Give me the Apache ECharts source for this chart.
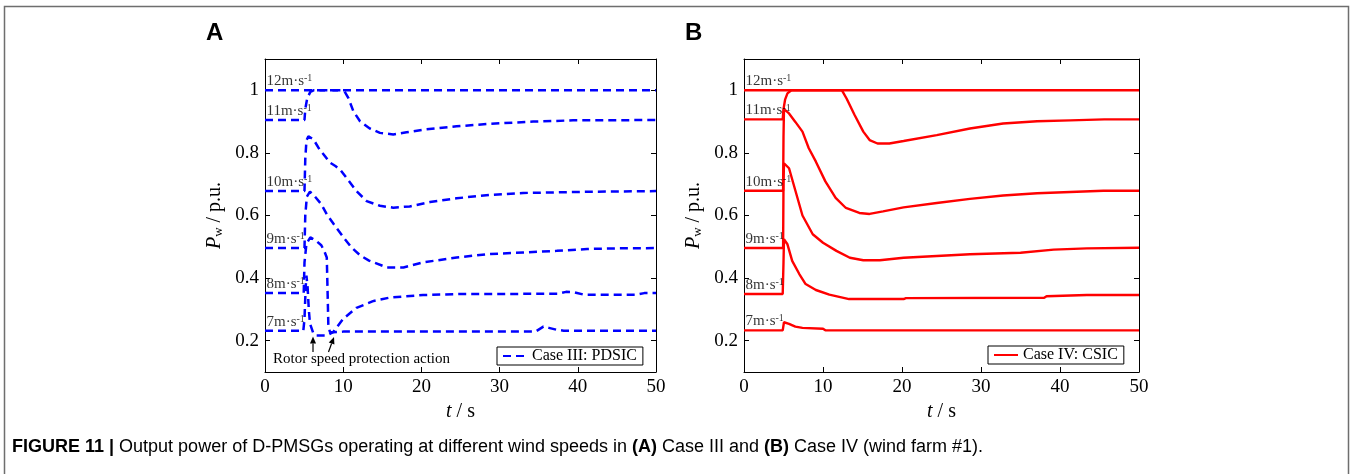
<!DOCTYPE html>
<html><head><meta charset="utf-8">
<script src="https://cdn.jsdelivr.net/npm/echarts@6/dist/echarts.min.js"></script>
<style>html,body{margin:0;padding:0;background:#fff}#c{width:1355px;height:474px}</style>
</head><body><div id="c"></div><script>
// ---------- data ----------
const xTicks = [0, 10, 20, 30, 40, 50];
const yTicks = [0.2, 0.4, 0.6, 0.8, 1];
const speedLabels = ['12m·s', '11m·s', '10m·s', '9m·s', '8m·s', '7m·s'];
const legendIII = 'Case III: PDSIC';
const legendIV = 'Case IV: CSIC';

// Case III: PDSIC  [t (s), Pw (p.u.)]
const caseIII_12 = [[0,1],[50,1]];
const caseIII_11 = [[0,0.905],[5.05,0.905],[5.15,0.94],[5.4,0.975],[5.8,0.995],[6.2,1],[10.1,1],[10.65,0.976],[11.3,0.933],[12.15,0.901],[13.4,0.878],[14.7,0.864],[16.4,0.859],[18.1,0.866],[20.2,0.874],[24.5,0.885],[28.8,0.893],[34.3,0.9],[39.4,0.904],[50,0.905]];
const caseIII_10 = [[0,0.678],[5.05,0.678],[5.15,0.78],[5.3,0.84],[5.55,0.853],[6.2,0.843],[7.0,0.81],[7.5,0.795],[8.3,0.769],[9.0,0.758],[9.6,0.747],[10.4,0.721],[11.7,0.678],[13,0.646],[14.7,0.631],[16.4,0.625],[18.5,0.629],[21.1,0.643],[24.5,0.655],[28.8,0.666],[33,0.672],[41.6,0.676],[50,0.678]];
const caseIII_9 = [[0,0.496],[5.05,0.496],[5.15,0.6],[5.35,0.66],[5.75,0.676],[6.4,0.66],[7.2,0.636],[7.9,0.604],[9.0,0.565],[10.2,0.525],[11.1,0.497],[12.2,0.472],[13.3,0.456],[15.6,0.434],[17.7,0.434],[20.2,0.45],[24.5,0.466],[28.8,0.477],[33,0.482],[37.3,0.487],[41.2,0.493],[45,0.495],[50,0.496]];
const caseIII_8 = [[0,0.352],[4.95,0.352],[5.05,0.45],[5.3,0.51],[5.8,0.53],[6.5,0.52],[7.2,0.505],[7.6,0.485],[7.9,0.466],[8.0,0.36],[8.1,0.25],[8.3,0.228],[8.7,0.227],[10,0.27],[11.7,0.305],[13.9,0.327],[16,0.338],[20.2,0.346],[25,0.349],[37.5,0.35],[38.5,0.356],[39.5,0.355],[40.8,0.347],[47.5,0.347],[48.5,0.352],[50,0.352]];
const caseIII_7 = [[0,0.232],[4.9,0.232],[5.05,0.27],[5.2,0.37],[5.3,0.408],[5.45,0.37],[5.6,0.3],[5.75,0.255],[6.2,0.222],[6.6,0.217],[7.9,0.217],[8.7,0.227],[10,0.229],[34.6,0.229],[35.6,0.245],[36.3,0.241],[37.3,0.235],[38.2,0.232],[50,0.232]];

// Case IV: CSIC
const caseIV_12 = [[0,1],[50,1]];
const caseIV_11 = [[0,0.907],[4.9,0.907],[5.0,0.94],[5.2,0.97],[5.5,0.99],[6.0,1],[12.4,1],[13.0,0.973],[14.0,0.921],[15.1,0.868],[15.9,0.841],[16.9,0.83],[18.4,0.83],[20.2,0.838],[24.4,0.857],[28.6,0.878],[32.8,0.894],[37.1,0.901],[41.3,0.904],[45.6,0.907],[50,0.907]];
const caseIV_10 = [[0,0.679],[4.95,0.679],[5.0,0.85],[5.06,0.94],[5.7,0.926],[6.5,0.899],[7.4,0.868],[8.2,0.815],[9.1,0.772],[10.3,0.709],[11.6,0.656],[12.9,0.624],[14.6,0.608],[15.9,0.605],[17.6,0.613],[20.2,0.626],[24.4,0.64],[28.6,0.653],[32.8,0.664],[37.1,0.671],[41.3,0.675],[45.5,0.679],[50,0.679]];
const caseIV_9 = [[0,0.496],[4.95,0.496],[5.0,0.7],[5.06,0.767],[5.7,0.751],[6.5,0.68],[7.4,0.6],[8.7,0.54],[10,0.513],[11.7,0.487],[13.4,0.465],[15.1,0.457],[17.2,0.457],[20.2,0.465],[28.6,0.476],[35,0.481],[39.2,0.491],[43.4,0.495],[50,0.497]];
const caseIV_8 = [[0,0.349],[4.9,0.349],[5.0,0.45],[5.06,0.524],[5.5,0.508],[6.1,0.455],[7.0,0.413],[7.8,0.381],[9.1,0.362],[10.8,0.347],[13.3,0.333],[20.2,0.333],[20.5,0.336],[38,0.337],[38.3,0.342],[43.4,0.346],[50,0.346]];
const caseIV_7 = [[0,0.233],[4.9,0.233],[5.06,0.259],[5.7,0.254],[6.5,0.245],[7.4,0.241],[10,0.238],[10.3,0.233],[50,0.233]];

const caseIII = [caseIII_12, caseIII_11, caseIII_10, caseIII_9, caseIII_8, caseIII_7];
const caseIV = [caseIV_12, caseIV_11, caseIV_10, caseIV_9, caseIV_8, caseIV_7];

// ---------- chart ----------
const SERIF = 'Liberation Serif';
const SANS = 'Liberation Sans';
const grids = [
  {left: 265, top: 59, width: 391, height: 313},
  {left: 744, top: 59, width: 395, height: 313}
];
const fmt = v => String(Math.round(v * 10) / 10);

function xAxes(gi) {
  return [
    {gridIndex: gi, type: 'value', min: 0, max: 50, interval: 10, position: 'bottom',
     axisLine: {show: true, onZero: false, lineStyle: {color: '#000', width: 1}},
     axisTick: {show: true, inside: true, length: 5, lineStyle: {color: '#000'}},
     axisLabel: {show: true, margin: 6, color: '#000', fontFamily: SERIF, fontSize: 19},
     splitLine: {show: false},
     name: '{i|t}{n| / s}', nameLocation: 'middle', nameGap: 24,
     nameTextStyle: {rich: {i: {fontFamily: SERIF, fontStyle: 'italic', fontSize: 20, color: '#000'},
                            n: {fontFamily: SERIF, fontSize: 20, color: '#000'}}}},
    {gridIndex: gi, type: 'value', min: 0, max: 50, interval: 10, position: 'top',
     axisLine: {show: true, onZero: false, lineStyle: {color: '#000', width: 1}},
     axisTick: {show: true, inside: true, length: 5, lineStyle: {color: '#000'}},
     axisLabel: {show: false}, splitLine: {show: false}}
  ];
}
function yAxes(gi) {
  return [
    {gridIndex: gi, type: 'value', min: 0.1, max: 1.1, position: 'left',
     axisLine: {show: true, onZero: false, lineStyle: {color: '#000', width: 1}},
     axisTick: {show: true, inside: true, length: 5, customValues: yTicks, lineStyle: {color: '#000'}},
     axisLabel: {show: true, margin: 6, customValues: yTicks, formatter: fmt, color: '#000', fontFamily: SERIF, fontSize: 19},
     splitLine: {show: false},
     name: '{i|P}{s|w}{n| / p.u.}', nameLocation: 'middle', nameGap: 40, nameRotate: 90,
     nameTextStyle: {rich: {i: {fontFamily: SERIF, fontStyle: 'italic', fontSize: 20, color: '#000'},
                            s: {fontFamily: SERIF, fontSize: 13, color: '#000', verticalAlign: 'bottom'},
                            n: {fontFamily: SERIF, fontSize: 20, color: '#000'}}}},
    {gridIndex: gi, type: 'value', min: 0.1, max: 1.1, position: 'right',
     axisLine: {show: true, onZero: false, lineStyle: {color: '#000', width: 1}},
     axisTick: {show: true, inside: true, length: 5, customValues: yTicks, lineStyle: {color: '#000'}},
     axisLabel: {show: false}, splitLine: {show: false}}
  ];
}

const series = [];
function addPanel(curves, gi, name, color, dash, width) {
  curves.forEach(d => {
    series.push({type: 'line', name: name, xAxisIndex: gi * 2, yAxisIndex: gi * 2, data: d,
      symbol: 'none', showSymbol: false, animation: false, z: 3,
      lineStyle: {color: color, width: width, type: dash}, itemStyle: {color: color}});
  });
  series.push({type: 'scatter', name: 'labels' + gi, xAxisIndex: gi * 2, yAxisIndex: gi * 2,
    symbolSize: 1, itemStyle: {color: 'rgba(0,0,0,0)'}, animation: false, z: 5, clip: false,
    data: curves.map((d, i) => ({name: speedLabels[i], value: [0, d[0][1]]})),
    label: {show: true, position: [2, -1], align: 'left', verticalAlign: 'bottom',
      formatter: p => '{a|' + p.name + '}{b|-1}',
      rich: {a: {fontFamily: SERIF, fontSize: 15, color: '#000'},
             b: {fontFamily: SERIF, fontSize: 10, color: '#000', verticalAlign: 'top'}}}});
}
addPanel(caseIII, 0, legendIII, '#0000ff', [8, 5], 2.5);
addPanel(caseIV, 1, legendIV, '#ff0000', 'solid', 2.4);

function legendAt(left, top, name) {
  return {left: left, top: top, data: [{name: name, itemStyle: {opacity: 0}}], selectedMode: false,
    itemWidth: 24, itemHeight: 12,
    padding: [1, 6, 1, 5], borderColor: '#000', borderWidth: 1, backgroundColor: '#fff',
    itemStyle: {opacity: 0},
    textStyle: {fontFamily: SERIF, fontSize: 16, color: '#000'}};
}

// arrow helper (annotation)
function arrow(x1, y1, x2, y2) {
  const dx = x2 - x1, dy = y2 - y1, L = Math.hypot(dx, dy);
  const ux = dx / L, uy = dy / L, hl = 7, hw = 3;
  const bx = x2 - ux * hl, by = y2 - uy * hl;
  return [
    {type: 'line', shape: {x1: x1, y1: y1, x2: bx, y2: by}, style: {stroke: '#000', lineWidth: 1.2}, z: 10},
    {type: 'polygon', shape: {points: [[x2, y2], [bx - uy * hw, by + ux * hw], [bx + uy * hw, by - ux * hw]]},
     style: {fill: '#000'}, z: 10}
  ];
}

const graphic = [
  {type: 'rect', shape: {x: 4.5, y: 6.5, width: 1344, height: 500}, style: {fill: 'none', stroke: '#6e6e6e', lineWidth: 1.5}, z: 1},
  {type: 'text', x: 206, y: 33, style: {text: 'A', font: 'bold 24px ' + SANS, fill: '#000', textVerticalAlign: 'middle'}},
  {type: 'text', x: 685, y: 33, style: {text: 'B', font: 'bold 24px ' + SANS, fill: '#000', textVerticalAlign: 'middle'}},
  {type: 'text', x: 273, y: 359, style: {text: 'Rotor speed protection action', font: '15px ' + SERIF, fill: '#000', textVerticalAlign: 'middle'}, z: 10},
  ...arrow(313, 352, 313, 336.5),
  ...arrow(328.5, 352, 334, 337),
  {type: 'text', x: 12, y: 447, style: {
    text: '{b|FIGURE 11 |}{n| Output power of D-PMSGs operating at different wind speeds in }{b|(A)}{n| Case III and }{b|(B)}{n| Case IV (wind farm #1).}',
    textVerticalAlign: 'middle',
    rich: {b: {fontFamily: SANS, fontWeight: 'bold', fontSize: 18, fill: '#000', color: '#000'},
           n: {fontFamily: SANS, fontSize: 18, fill: '#000', color: '#000'}}}}
];

const chart = echarts.init(document.getElementById('c'), null, {renderer: 'canvas'});
chart.setOption({
  animation: false,
  backgroundColor: '#fff',
  grid: grids,
  xAxis: [...xAxes(0), ...xAxes(1)],
  yAxis: [...yAxes(0), ...yAxes(1)],
  legend: [legendAt(497, 347, legendIII), legendAt(988, 346, legendIV)],
  series: series,
  graphic: graphic
});
</script></body></html>
